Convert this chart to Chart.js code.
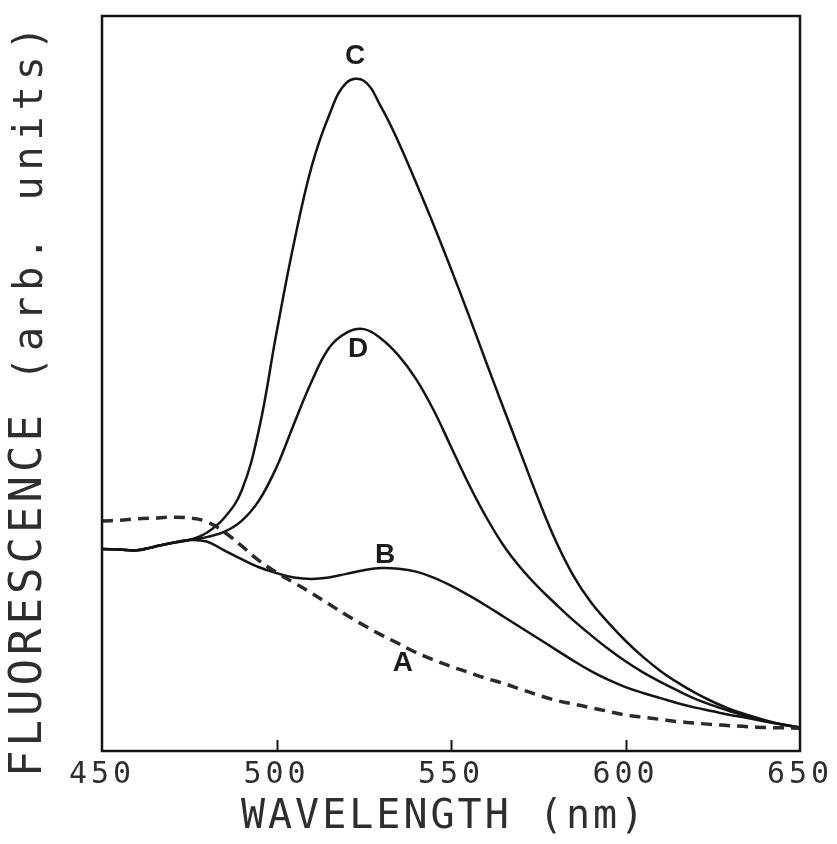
<!DOCTYPE html>
<html>
<head>
<meta charset="utf-8">
<script src="https://cdn.jsdelivr.net/npm/chart.js@4.4.1/dist/chart.umd.min.js"></script>
<style>
  html, body { margin: 0; padding: 0; background: #ffffff; }
  #wrap { width: 837px; height: 844px; }
</style>
</head>
<body>
<div id="wrap"><canvas id="chart" width="837" height="844"></canvas></div>
<script>
// Emission wavelengths (nm)
const wavelength = [450, 455, 460, 465, 470, 475, 480, 485, 490, 495,
                    500, 505, 510, 515, 520, 525, 530, 535, 540, 545,
                    550, 555, 560, 565, 570, 575, 580, 585, 590, 595,
                    600, 605, 610, 615, 620, 625, 630, 635, 640, 645, 650];

// Fluorescence intensity, arbitrary units
const curveA = [31.3, 31.4, 31.6, 31.7, 31.8, 31.7, 31.2, 29.8, 27.9, 25.9,
                24.3, 22.9, 21.5, 20.0, 18.5, 17.1, 15.8, 14.6, 13.4, 12.4,
                11.5, 10.7, 9.9, 9.2, 8.4, 7.6, 6.9, 6.4, 5.9, 5.4,
                4.9, 4.6, 4.3, 4.0, 3.8, 3.6, 3.45, 3.3, 3.2, 3.15, 3.1];
const curveB = [27.5, 27.4, 27.3, 27.8, 28.3, 28.7, 28.5, 27.3, 26.1, 25.0,
                24.2, 23.6, 23.4, 23.6, 24.1, 24.6, 24.9, 24.8, 24.4, 23.6,
                22.5, 21.2, 19.8, 18.3, 16.8, 15.3, 13.8, 12.3, 10.9, 9.7,
                8.7, 7.9, 7.2, 6.5, 5.9, 5.4, 4.9, 4.5, 4.0, 3.6, 3.2];
const curveC = [27.5, 27.4, 27.3, 27.8, 28.3, 28.7, 29.7, 31.7, 35.4, 43.8,
                56.9, 69.1, 79.4, 86.4, 90.9, 91.2, 87.6, 82.8, 77.3, 71.6,
                65.6, 59.4, 53.0, 46.7, 40.5, 34.3, 28.6, 23.9, 20.3, 17.5,
                15.0, 12.8, 10.9, 9.3, 7.9, 6.7, 5.7, 4.9, 4.2, 3.6, 3.2];
const curveD = [27.5, 27.4, 27.3, 27.8, 28.3, 28.7, 29.1, 29.8, 31.3, 34.1,
                38.6, 44.5, 50.2, 54.8, 56.9, 57.4, 56.1, 53.8, 50.6, 46.4,
                41.4, 36.4, 31.9, 28.0, 24.9, 22.3, 20.0, 17.8, 15.8, 13.9,
                12.2, 10.7, 9.4, 8.2, 7.1, 6.2, 5.4, 4.7, 4.1, 3.6, 3.2];

// Axis ticks and curve tags
const xTickLabels = [450, 500, 550, 600, 650];
const innerTicks = [500, 550, 600];
const tagNames = ['A', 'B', 'C', 'D'];
const tagWavelength = [536.2, 531.1, 522.5, 523.4];
const tagLevel = [12.0, 26.6, 94.5, 54.7];

const xTitle = 'WAVELENGTH (nm)';
const yTitleMain = 'FLUORESCENCE';
const yTitleUnits = ' (arb. units)';

const INK = '#141414';
const TEXT = '#2e2e2e';

function series(values) {
  return wavelength.map((w, i) => ({ x: w, y: values[i] }));
}

// Wide, plotter-like spacing for the axis numbers
const tickSpacing = {
  id: 'tickSpacing',
  beforeDraw(chart) { chart.ctx.letterSpacing = '4px'; },
  beforeDatasetsDraw(chart) { chart.ctx.letterSpacing = '0px'; }
};

// Frame, inward tick marks, curve tags and axis titles
const decorations = {
  id: 'decorations',
  afterDatasetsDraw(chart) {
    const { ctx, chartArea: a, scales } = chart;
    const xs = scales.x, ys = scales.y;
    ctx.save();
    ctx.letterSpacing = '0px';

    // frame round the plot
    ctx.strokeStyle = INK;
    ctx.lineWidth = 2.5;
    ctx.strokeRect(a.left, a.top, a.right - a.left, a.bottom - a.top);

    // short ticks pointing into the plot
    ctx.lineWidth = 2;
    innerTicks.forEach(v => {
      const px = Math.round(xs.getPixelForValue(v)) + 0.5;
      ctx.beginPath();
      ctx.moveTo(px, a.bottom);
      ctx.lineTo(px, a.bottom - 11);
      ctx.stroke();
    });

    // curve tags
    ctx.fillStyle = '#1c1c1c';
    ctx.font = 'bold 28px "Liberation Sans", Arial, sans-serif';
    ctx.textAlign = 'center';
    ctx.textBaseline = 'middle';
    tagNames.forEach((t, i) => {
      ctx.fillText(t, xs.getPixelForValue(tagWavelength[i]), ys.getPixelForValue(tagLevel[i]));
    });

    // x-axis title
    ctx.fillStyle = TEXT;
    ctx.font = '40px "DejaVu Sans Mono", monospace';
    ctx.letterSpacing = '3px';
    ctx.textAlign = 'center';
    ctx.textBaseline = 'middle';
    const w = a.right - a.left;
    ctx.fillText(xTitle, a.left + 0.49 * w, a.bottom + 67);

    // y-axis title, read bottom to top
    ctx.save();
    ctx.translate(30, a.bottom + 26);
    ctx.rotate(-Math.PI / 2);
    ctx.textAlign = 'left';
    ctx.textBaseline = 'middle';
    ctx.font = '44px "DejaVu Sans Mono", monospace';
    ctx.letterSpacing = '4px';
    ctx.fillText(yTitleMain, 0, 0);
    const mainWidth = ctx.measureText(yTitleMain).width;
    ctx.font = '40px "DejaVu Sans Mono", monospace';
    ctx.letterSpacing = '6px';
    ctx.fillText(yTitleUnits, mainWidth, 2);
    ctx.restore();

    ctx.restore();
  }
};

const lineStyle = { borderColor: INK, borderWidth: 2.5, pointRadius: 0, tension: 0.4, fill: false };

new Chart(document.getElementById('chart'), {
  type: 'line',
  data: {
    datasets: [
      Object.assign({ label: 'A', data: series(curveA) }, lineStyle, { borderWidth: 3.5, borderDash: [11, 7], borderColor: '#2a2a2a' }),
      Object.assign({ label: 'B', data: series(curveB) }, lineStyle),
      Object.assign({ label: 'C', data: series(curveC) }, lineStyle),
      Object.assign({ label: 'D', data: series(curveD) }, lineStyle)
    ]
  },
  options: {
    responsive: false,
    animation: false,
    devicePixelRatio: 1,
    layout: { padding: { left: 102, top: 16, right: 37, bottom: 45 } },
    plugins: { legend: { display: false }, tooltip: { enabled: false } },
    scales: {
      x: {
        type: 'linear',
        min: 450,
        max: 650,
        afterBuildTicks(scale) { scale.ticks = xTickLabels.map(v => ({ value: v })); },
        grid: { display: false, drawTicks: false },
        border: { display: false },
        ticks: {
          padding: 6,
          color: TEXT,
          font: { family: '"DejaVu Sans Mono", monospace', size: 30 },
          callback: v => String(v)
        }
      },
      y: {
        display: false,
        min: 0,
        max: 100
      }
    }
  },
  plugins: [tickSpacing, decorations]
});
</script>
</body>
</html>
